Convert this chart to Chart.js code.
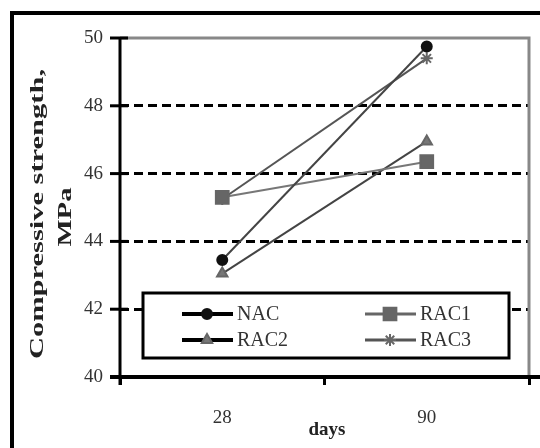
<!DOCTYPE html>
<html lang="en">
<head>
<meta charset="UTF-8">
<title>Compressive strength vs days</title>
<style>
  body { margin: 0; background: #fff; }
  #wrap { width: 540px; height: 448px; }
</style>
<script src="https://cdn.jsdelivr.net/npm/chart.js"></script>
</head>
<body>
<div id="wrap"><canvas id="chart" width="540" height="448"></canvas></div>
<script>
// data
const days = ['28', '90'];
const nac = [43.45, 49.75];
const rac1 = [45.3, 46.35];
const rac2 = [43.05, 46.95];
const rac3 = [45.25, 49.4];
const seriesNames = ['NAC', 'RAC1', 'RAC2', 'RAC3'];
const yMin = 40, yMax = 50, yStep = 2;

const serif = "'Liberation Serif', 'DejaVu Serif', serif";

const datasets = [
  { label: seriesNames[0], data: nac, borderColor: '#444', backgroundColor: '#111', pointStyle: 'circle', pointRadius: 5, pointBorderColor: '#111', legendLine: '#000', legendWidth: 4 },
  { label: seriesNames[1], data: rac1, borderColor: '#777', backgroundColor: '#666', pointStyle: 'rect', pointRadius: 9, pointBorderColor: '#666', legendLine: '#666', legendWidth: 3 },
  { label: seriesNames[2], data: rac2, borderColor: '#444', backgroundColor: '#777', pointStyle: 'triangle', pointRadius: 6, pointBorderColor: '#666', legendLine: '#000', legendWidth: 4 },
  { label: seriesNames[3], data: rac3, borderColor: '#555', backgroundColor: '#666', pointStyle: 'star', pointRadius: 6, pointBorderColor: '#666', legendLine: '#555', legendWidth: 3 }
].map(d => Object.assign({ borderWidth: 2, pointBorderWidth: 2, fill: false, tension: 0 }, d));

// text squeezed/stretched along its own direction
function stretchText(ctx, text, x, y, font, length, rot) {
  ctx.save();
  ctx.font = font;
  const w = ctx.measureText(text).width;
  ctx.translate(x, y);
  ctx.rotate(rot);
  ctx.scale(length / w, 1);
  ctx.textAlign = 'center';
  ctx.textBaseline = 'middle';
  ctx.fillText(text, 0, 0);
  ctx.restore();
}

const decorations = {
  id: 'decorations',
  afterDraw(chart) {
    const { ctx, chartArea: a, scales: { y } } = chart;
    const P = Chart.helpers;
    ctx.save();

    // outer frame
    ctx.strokeStyle = '#000';
    ctx.lineWidth = 4;
    ctx.strokeRect(12, 13, 700, 700);

    // grey plot border top / right
    ctx.strokeStyle = '#888';
    ctx.lineWidth = 3;
    ctx.beginPath();
    ctx.moveTo(a.left, a.top);
    ctx.lineTo(a.right, a.top);
    ctx.lineTo(a.right, a.bottom);
    ctx.stroke();

    // y axis line and cross ticks
    ctx.strokeStyle = '#000';
    ctx.lineWidth = 3;
    ctx.beginPath();
    ctx.moveTo(a.left, a.top);
    ctx.lineTo(a.left, a.bottom + 8);
    ctx.stroke();
    for (let v = yMin; v <= yMax; v += yStep) {
      const py = y.getPixelForValue(v);
      ctx.beginPath();
      ctx.moveTo(a.left - 10, py);
      ctx.lineTo(a.left + 8, py);
      ctx.stroke();
    }

    // x axis line
    ctx.lineWidth = 4;
    ctx.beginPath();
    ctx.moveTo(a.left - 10, a.bottom);
    ctx.lineTo(540, a.bottom);
    ctx.stroke();

    // axis titles
    ctx.fillStyle = '#222';
    stretchText(ctx, 'Compressive strength,', 38, 214, 'bold 19px ' + serif, 290, -Math.PI / 2);
    stretchText(ctx, 'MPa', 66, 217, 'bold 19px ' + serif, 59, -Math.PI / 2);
    ctx.font = 'bold 19px ' + serif;
    ctx.textAlign = 'center';
    ctx.textBaseline = 'middle';
    ctx.fillText('days', 327, 430);

    // legend box
    ctx.fillStyle = '#fff';
    ctx.fillRect(143, 293, 366, 65);
    ctx.strokeStyle = '#000';
    ctx.lineWidth = 3;
    ctx.strokeRect(143, 293, 366, 65);
    const cols = [182, 365];
    const rows = [314, 340];
    datasets.forEach((d, i) => {
      const lx = cols[i % 2];
      const ly = rows[Math.floor(i / 2)];
      ctx.strokeStyle = d.legendLine;
      ctx.lineWidth = d.legendWidth;
      ctx.beginPath();
      ctx.moveTo(lx, ly);
      ctx.lineTo(lx + 51, ly);
      ctx.stroke();
      ctx.fillStyle = d.backgroundColor;
      ctx.strokeStyle = d.pointBorderColor;
      ctx.lineWidth = d.pointBorderWidth;
      P.drawPoint(ctx, { pointStyle: d.pointStyle, radius: d.pointRadius, borderWidth: d.pointBorderWidth, rotation: 0 }, lx + 25, ly);
      ctx.fillStyle = '#333';
      ctx.font = '20px ' + serif;
      ctx.textAlign = 'left';
      ctx.textBaseline = 'middle';
      ctx.fillText(d.label, lx + 55, ly + 1);
    });

    ctx.restore();
  }
};

new Chart(document.getElementById('chart'), {
  type: 'line',
  data: { labels: days, datasets: datasets },
  options: {
    responsive: false,
    animation: false,
    layout: { padding: { top: 38, right: 2, left: 0, bottom: 0 } },
    plugins: { legend: { display: false }, tooltip: { enabled: false } },
    scales: {
      x: {
        offset: true,
        grid: { offset: true, drawOnChartArea: false, drawTicks: true, tickLength: 8, tickColor: '#000', tickWidth: 3 },
        border: { display: false },
        ticks: { color: '#333', font: { family: serif, size: 19 }, padding: 22 },
        afterFit(s) { s.height = 71; }
      },
      y: {
        min: yMin,
        max: yMax,
        ticks: { stepSize: yStep, color: '#333', font: { family: serif, size: 19 }, padding: 17 },
        grid: {
          drawTicks: false,
          lineWidth: 3,
          color: c => (c.tick && c.tick.value > yMin && c.tick.value < yMax) ? '#000' : 'rgba(0,0,0,0)'
        },
        border: { display: false, dash: [9, 5] },
        afterFit(s) { s.width = 120; }
      }
    }
  },
  plugins: [decorations]
});
</script>
</body>
</html>
